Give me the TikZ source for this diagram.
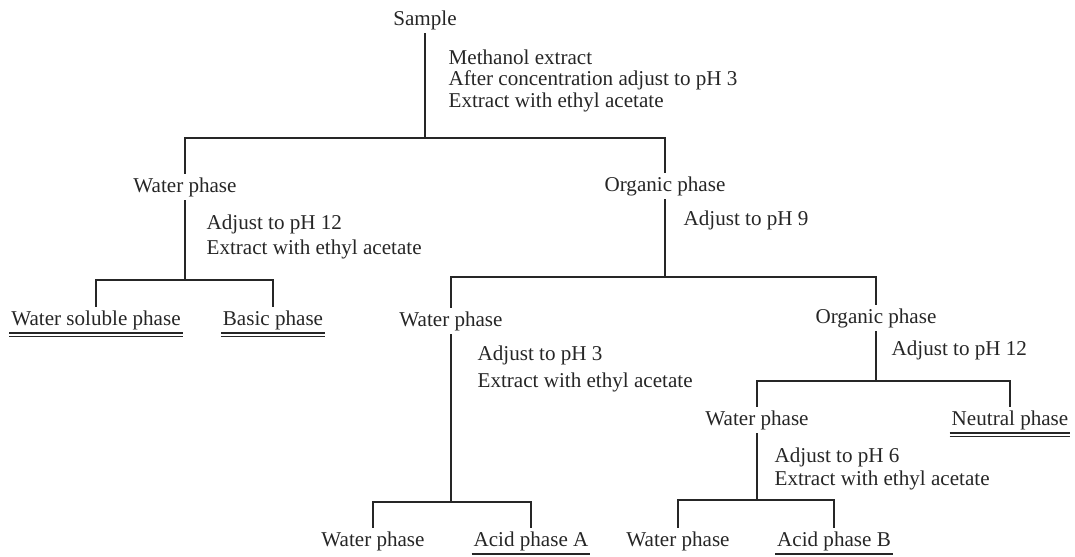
\documentclass[tikz,border=0pt]{standalone}
\usepackage{fontspec}
\setmainfont{Liberation Serif}

\begin{document}
\begin{tikzpicture}[x=0.025cm, y=-0.025cm, line width=0.9pt, color=black!85,
        every node/.style={font=\fontsize{15}{15.3}\selectfont, inner sep=2pt},
        instr/.style={anchor=west, align=left, inner sep=0pt}]
        \useasboundingbox (0,0) rectangle (1075,557);
        % phases
        \node (sample) at (425,20) {Sample};
        \node (wpA) at (185,187) {Water phase};
        \node (opA) at (665,186) {Organic phase};
        \node (wsp) at (96,320) {Water soluble phase};
        \node (bsp) at (273,320) {Basic phase};
        \node (wpB) at (451,321) {Water phase};
        \node (opB) at (876,318) {Organic phase};
        \node (wpC) at (757,420) {Water phase};
        \node (ntp) at (1010,420) {Neutral phase};
        \node (wpD) at (373,541) {Water phase};
        \node (acA) at (531,541) {Acid phase A};
        \node (wpE) at (678,541) {Water phase};
        \node (acB) at (834,541) {Acid phase B};
        % steps
        \node[instr] (s1) at (448,80.5) {Methanol extract\\After concentration adjust to pH 3\\Extract with ethyl acetate};
        \node[instr] (s2) at (206,237) {Adjust to pH 12\\[3pt]Extract with ethyl acetate};
        \node[instr] (s3) at (683,220) {Adjust to pH 9};
        \node[instr] (s4) at (477,369) {Adjust to pH 3\\[4pt]Extract with ethyl acetate};
        \node[instr] (s5) at (891,350) {Adjust to pH 12};
        \node[instr] (s6) at (774,468.5) {Adjust to pH 6\\[1pt]Extract with ethyl acetate};
        % branches
        \coordinate (b1) at (425,138);
        \coordinate (b2) at (185,280);
        \coordinate (b3) at (665,277);
        \coordinate (b4) at (451,502);
        \coordinate (b5) at (876,381);
        \coordinate (b6) at (757,500);
        \draw (sample) -- (b1);
        \draw (wpA) |- (b1) -| (opA);
        \draw (wpA) -- (b2);
        \draw (wsp) |- (b2) -| (bsp);
        \draw (opA) -- (b3);
        \draw (wpB) |- (b3) -| (opB);
        \draw (wpB) -- (b4);
        \draw (wpD) |- (b4) -| (acA);
        \draw (opB) -- (b5);
        \draw (wpC) |- (b5) -| (ntp);
        \draw (wpC) -- (b6);
        \draw (wpE) |- (b6) -| (acB);
        % end products
        \foreach \n in {wsp, bsp, ntp, acA, acB} {
            \draw ([xshift=1pt]\n.south west) -- ([xshift=-1pt]\n.south east);
            \draw[line width=0.6pt] ([xshift=1pt, yshift=-2.2pt]\n.south west) -- ([xshift=-1pt, yshift=-2.2pt]\n.south east);
        }
\end{tikzpicture}
\end{document}
